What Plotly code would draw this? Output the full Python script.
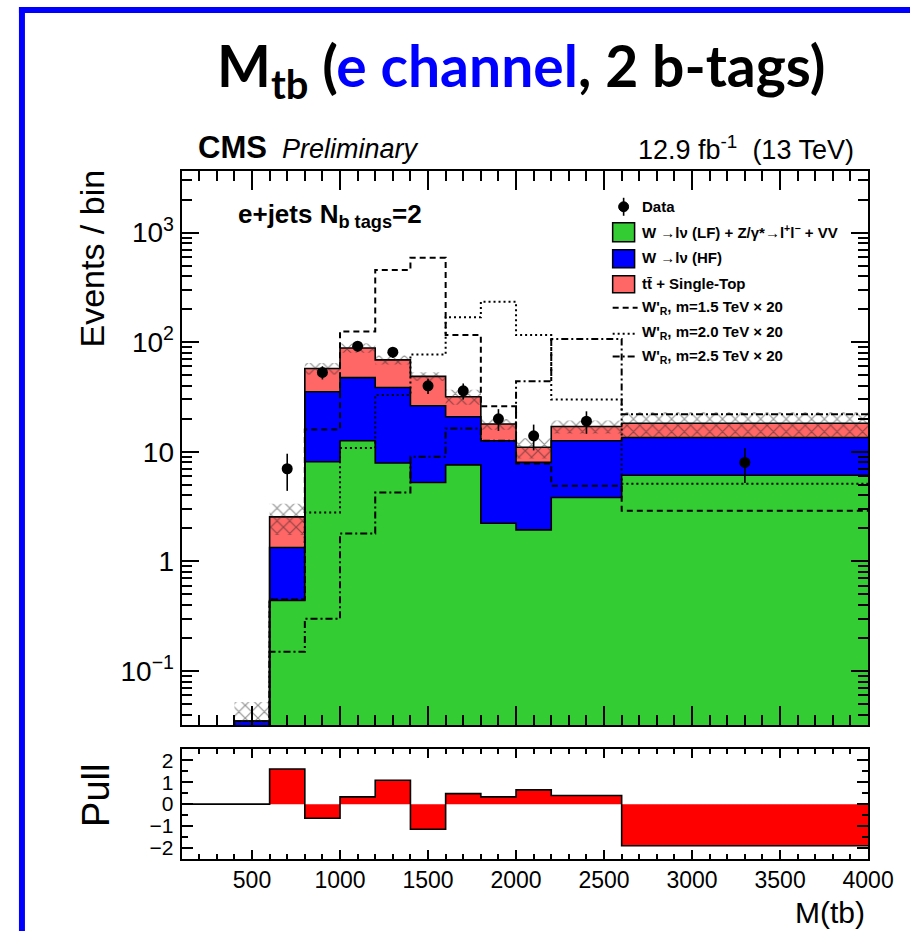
import numpy as np
import plotly.graph_objects as go

W, H = 912, 931          # target picture size (positions below are in these pixels)
W_LAYOUT = 936           # layout width (page renders it slightly narrower)

# ---------------- data ----------------
edges = [100, 200, 300, 400, 500, 600, 800, 1000, 1200, 1400, 1600, 1800, 2000, 2200, 2600, 4000]
green_lf = [0, 0, 0, 0, 0, 0.44, 8.1, 12.6, 7.9, 5.25, 7.6, 2.23, 1.94, 3.83, 6.1]
blue_hf = [0, 0, 0, 0.035, 0.035, 0.90, 27.2, 34.9, 30.7, 21.05, 13.3, 10.37, 6.06, 8.77, 7.4]
red_top = [0, 0, 0, 0, 0, 1.21, 22.3, 41.1, 30.4, 22.5, 10.9, 5.3, 3.0, 4.4, 4.7]
bkg_unc = [0, 0, 0, 0.017, 0.017, 0.8, 7.0, 8.5, 6.5, 4.5, 5.0, 2.0, 2.3, 2.3, 4.7]
wp_15 = [0, 0, 0, 0, 0, 0.45, 16, 125, 456, 588, 116, 26, 7.8, 4.9, 2.9]
wp_20 = [0, 0, 0, 0, 0, 0.45, 2.8, 10.8, 33, 77, 169, 234, 116, 30, 5.1]
wp_25 = [0, 0, 0, 0, 0, 0.15, 0.30, 1.8, 4.25, 9.0, 16.3, 12.6, 44, 107, 22]
data_obs = [None, None, None, None, None, 7, 53, 92, 81, 40, 36, 20, 14, 19, 8]
data_err = [None, None, None, None, None, 2.6, 7.3, 9.6, 9.0, 6.3, 6.0, 4.5, 3.7, 4.4, 2.8]
pull = [0, 0, 0, 0, 0, 1.6, -0.64, 0.33, 1.09, -1.14, 0.48, 0.33, 0.65, 0.39, -1.89]

y_tickvals = [0.1, 1, 10, 100, 1000]
y_ticktext = ["10<sup>\u22121</sup>", "1", "10", "10<sup>2</sup>", "10<sup>3</sup>"]

C_GREEN = "#33cc33"
C_BLUE = "#0000ff"
C_RED = "#ff6666"
C_PULL = "#ff0000"
FONT = "Liberation Sans"
DASH = {"dash": "6px,4px", "dot": "2px,3px", "dashdot": "7px,3px,2px,3px"}

FLOOR = 1e-4
edges_a = np.array(edges, float)


def step_y(vals, floor=None):
    v = np.array(vals, float)
    if floor is not None:
        v = np.maximum(v, floor)
    return list(v) + [v[-1]]


c1 = np.array(green_lf, float)
c2 = c1 + np.array(blue_hf, float)
c3 = c2 + np.array(red_top, float)
unc = np.array(bkg_unc, float)

fig = go.Figure()
line_k = dict(color="black", width=1.6, shape="hv")

# baseline for stacked fills
fig.add_trace(go.Scatter(x=edges, y=step_y(np.zeros(len(c1)), FLOOR), mode="lines",
                         line=dict(width=0, shape="hv"), hoverinfo="skip", showlegend=False))
for cum, col in [(c1, C_GREEN), (c2, C_BLUE), (c3, C_RED)]:
    fig.add_trace(go.Scatter(x=edges, y=step_y(cum, FLOOR), mode="lines", line=line_k,
                             fill="tonexty", fillcolor=col, hoverinfo="skip", showlegend=False))

# uncertainty band (cross-hatched)
fig.add_trace(go.Scatter(x=edges, y=step_y(c3 - unc, FLOOR), mode="lines",
                         line=dict(width=0, shape="hv"), hoverinfo="skip", showlegend=False))
fig.add_trace(go.Scatter(x=edges, y=step_y(c3 + unc, FLOOR), mode="lines",
                         line=dict(width=0, shape="hv"), fill="tonexty",
                         fillcolor="rgba(0,0,0,0)",
                         fillpattern=dict(shape="x", fgcolor="#222222", bgcolor="rgba(0,0,0,0)",
                                          size=9, solidity=0.25, fillmode="overlay"),
                         hoverinfo="skip", showlegend=False))

# signals
for vals, dash in [(wp_15, "dash"), (wp_20, "dot"), (wp_25, "dashdot")]:
    fig.add_trace(go.Scatter(x=edges, y=step_y(vals, FLOOR), mode="lines",
                             line=dict(color="black", width=2, dash=DASH[dash], shape="hv"),
                             hoverinfo="skip", showlegend=False))

# data
centers = 0.5 * (edges_a[:-1] + edges_a[1:])
dx = [c for c, d in zip(centers, data_obs) if d is not None]
dy = [d for d in data_obs if d is not None]
de = [e for e in data_err if e is not None]
fig.add_trace(go.Scatter(x=dx, y=dy, mode="markers",
                         marker=dict(color="black", size=11, symbol="circle"),
                         error_y=dict(type="data", array=de, color="black", thickness=1.6, width=0),
                         showlegend=False))

# pull
fig.add_trace(go.Scatter(x=edges, y=step_y(pull), mode="lines", xaxis="x2", yaxis="y2",
                         line=dict(color="black", width=1.6, shape="hv"),
                         fill="tozeroy", fillcolor=C_PULL, hoverinfo="skip", showlegend=False))


def px(x):
    return x / W


def py(y):
    return 1 - y / H


xdom = [px(182), px(870)]
axis_common = dict(showline=True, linecolor="black", linewidth=2, mirror="ticks",
                   showgrid=False, zeroline=False, ticks="inside", tickcolor="black")

minor_log = [k * 10.0 ** d for d in range(-2, 4) for k in range(2, 10)]

fig.update_layout(
    width=W_LAYOUT, height=H, autosize=False, margin=dict(l=0, r=0, t=0, b=0, pad=0),
    paper_bgcolor="white", plot_bgcolor="white", showlegend=False,
    xaxis=dict(domain=xdom, anchor="y", range=[100, 4000], showticklabels=False,
               tick0=0, dtick=500, ticklen=19, tickwidth=1.5,
               minor=dict(ticks="inside", dtick=100, ticklen=10, tickwidth=1.5, tickcolor="black"),
               **axis_common),
    yaxis=dict(domain=[py(725), py(170)], anchor="x", type="log", range=[np.log10(0.032), np.log10(3660)],
               tickvals=y_tickvals, ticktext=y_ticktext, ticklen=17, tickwidth=1.5,
               tickfont=dict(family=FONT, size=28, color="black"), ticklabelstandoff=0,
               minor=dict(ticks="inside", tickvals=minor_log, ticklen=10, tickwidth=1.5, tickcolor="black"),
               **axis_common),
    xaxis2=dict(domain=xdom, anchor="y2", range=[100, 4000], tick0=0, dtick=500, ticklen=9, tickwidth=1.5,
                tickfont=dict(family=FONT, size=23, color="black"), ticklabelstandoff=-1,
                minor=dict(ticks="inside", dtick=100, ticklen=5, tickwidth=1.5, tickcolor="black"),
                **axis_common),
    yaxis2=dict(domain=[py(859), py(749)], anchor="x2", range=[-2.5, 2.5], tickvals=[-2, -1, 0, 1, 2],
                ticklen=11, tickwidth=1.5, tickfont=dict(family=FONT, size=21, color="black"),
                ticklabelstandoff=2,
                minor=dict(ticks="inside", dtick=0.5, ticklen=6, tickwidth=1.5, tickcolor="black"),
                **axis_common),
)

annotations = []


def ann(text, x, y, size, xanchor="left", yanchor="middle", family=FONT, color="black", angle=0):
    annotations.append(dict(text=text, x=px(x), y=py(y), xref="paper", yref="paper",
                            xanchor=xanchor, yanchor=yanchor, showarrow=False, textangle=angle,
                            font=dict(family=family, size=size, color=color)))


ann("<b>M<sub>tb</sub> (<span style='color:#0000ff'>e channel</span>, 2 b-tags)</b>", 522, 68, 57,
    xanchor="center", family="Lato")
ann("<b>CMS</b>", 196, 147, 31)
ann("<i>Preliminary</i>", 281, 148, 27)
ann("12.9 fb<sup>-1</sup>  (13 TeV)", 858, 147, 27, xanchor="right")
ann("<b>e+jets N<sub>b tags</sub>=2</b>", 237, 215, 26)
ann("Events / bin", 92, 258, 34, xanchor="center", angle=-90)
ann("Pull", 96, 795, 38, xanchor="center", angle=-90)
ann("M(tb)", 869, 912, 30, xanchor="right")

# legend (drawn by hand, ROOT style)
leg_x_text = 641
leg_font = 15
legend_texts = [
    ("<b>Data</b>", 206),
    ("<b>W \u2192l\u03bd (LF) + Z/\u03b3*\u2192l<sup>+</sup>l<sup>\u2212</sup> + VV</b>", 231),
    ("<b>W \u2192l\u03bd (HF)</b>", 257),
    ("<b>tt\u0304 + Single-Top</b>", 283),
    ("<b>W'<sub>R</sub>, m=1.5 TeV \u00d7 20</b>", 307),
    ("<b>W'<sub>R</sub>, m=2.0 TeV \u00d7 20</b>", 332),
    ("<b>W'<sub>R</sub>, m=2.5 TeV \u00d7 20</b>", 356),
]
for t, y in legend_texts:
    ann(t, leg_x_text, y, leg_font)

shapes = []


def pshape(**kw):
    kw.setdefault("xref", "paper")
    kw.setdefault("yref", "paper")
    shapes.append(kw)


# data marker in legend
pshape(type="line", x0=px(625), x1=px(625), y0=py(197), y1=py(215), line=dict(color="black", width=1.6))
pshape(type="circle", x0=px(620), x1=px(630), y0=py(201), y1=py(211), fillcolor="black",
       line=dict(color="black", width=1))
for (y0, y1), col in [((222, 241), C_GREEN), ((249, 267), C_BLUE), ((275, 292), C_RED)]:
    pshape(type="rect", x0=px(614), x1=px(636), y0=py(y1), y1=py(y0), fillcolor=col,
           line=dict(color="black", width=1.5))
for y, dash in [(307, "dash"), (333, "dot"), (356, "dashdot")]:
    pshape(type="line", x0=px(614), x1=px(639), y0=py(y), y1=py(y),
           line=dict(color="black", width=2, dash=DASH[dash]))

# blue slide frame
pshape(type="line", x0=px(19), x1=1, y0=py(9), y1=py(9), line=dict(color="#0000ff", width=6))
pshape(type="line", x0=px(22), x1=px(22), y0=py(6), y1=0, line=dict(color="#0000ff", width=6))

fig.update_layout(annotations=annotations, shapes=shapes)
fig.write_html(
    "out.html",
    config={"responsive": False},
    post_script="document.documentElement.style.overflow='hidden';"
                "document.body.style.margin='0';document.body.style.overflow='hidden';",
)
